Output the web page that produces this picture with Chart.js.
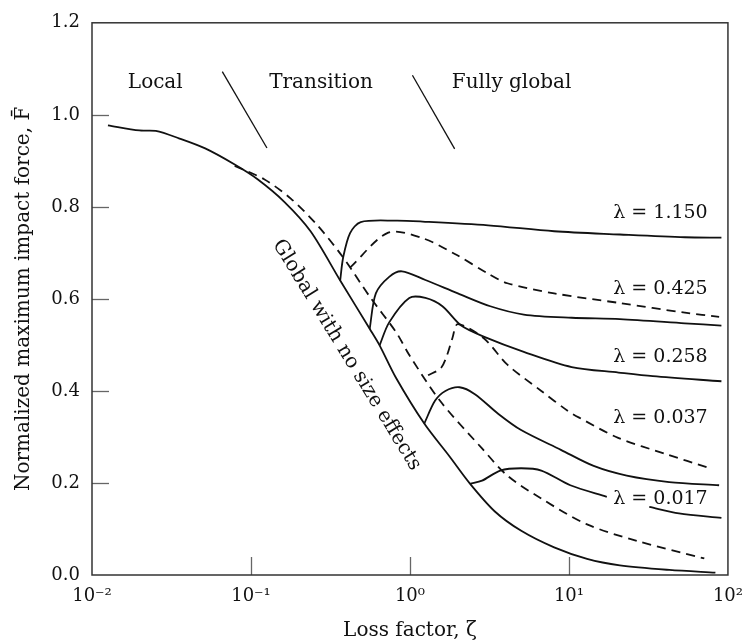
<!DOCTYPE html>
<html>
<head>
<meta charset="utf-8">
<script src="https://cdn.jsdelivr.net/npm/chart.js@4.4.1/dist/chart.umd.min.js"></script>
<style>
  html, body { margin: 0; padding: 0; background: #fff; }
  #wrap { width: 754px; height: 643px; }
</style>
</head>
<body>
<div id="wrap"><canvas id="chart" width="754" height="643"></canvas></div>
<script>
// [loss factor zeta, normalized max impact force]
const globalNoSize = [
  [0.0126, 0.977], [0.0199, 0.966], [0.0252, 0.965], [0.0352, 0.949], [0.0515, 0.927],
  [0.079, 0.892], [0.110, 0.860], [0.162, 0.811], [0.237, 0.747], [0.364, 0.640],
  [0.558, 0.535], [0.644, 0.499], [0.818, 0.428], [1.23, 0.329], [1.77, 0.258],
  [2.39, 0.198], [3.42, 0.138], [5.01, 0.096], [8.07, 0.060], [13.0, 0.035],
  [20.9, 0.021], [42.8, 0.011], [83.4, 0.005]
];
const lambda1150 = [
  [0.364, 0.640], [0.38, 0.69], [0.42, 0.743], [0.49, 0.767], [0.82, 0.770],
  [1.20, 0.768], [3.1, 0.760], [8.07, 0.747], [20.9, 0.740], [53.6, 0.734], [91, 0.733]
];
const dashedUpper = [
  [0.42, 0.668], [0.73, 0.744], [1.2, 0.732], [1.93, 0.697], [3.1, 0.655],
  [4.1, 0.634], [8.07, 0.612], [20.9, 0.591], [53.6, 0.570], [88, 0.561]
];
const dashedLong = [
  [0.079, 0.889], [0.121, 0.860], [0.178, 0.818], [0.26, 0.761], [0.38, 0.69],
  [0.558, 0.605], [0.82, 0.527], [0.99, 0.478], [1.55, 0.378], [2.84, 0.275],
  [4.1, 0.216], [6.7, 0.166], [13, 0.110], [26.8, 0.074], [71, 0.036]
];
const lambda0425 = [
  [0.558, 0.535], [0.61, 0.612], [0.74, 0.648], [0.89, 0.660], [1.25, 0.641],
  [2.0, 0.612], [3.2, 0.584], [5.2, 0.566], [10.4, 0.559], [20.9, 0.556],
  [53.6, 0.547], [91, 0.542]
];
const lambda0258 = [
  [0.644, 0.499], [0.74, 0.549], [0.99, 0.602], [1.25, 0.602], [1.6, 0.584],
  [2.1, 0.542], [2.96, 0.517], [5.2, 0.485], [10.4, 0.452], [20.5, 0.440],
  [33.7, 0.432], [91, 0.421]
];
const dashedHook = [
  [1.30, 0.434], [1.56, 0.449], [1.70, 0.475], [1.85, 0.515], [2.0, 0.545],
  [2.9, 0.515], [4.1, 0.457], [6.7, 0.400], [9.8, 0.357], [11.6, 0.342],
  [20.4, 0.298], [40.6, 0.263], [75.5, 0.233]
];
const lambda0037 = [
  [1.23, 0.329], [1.44, 0.379], [1.67, 0.400], [2.05, 0.408], [2.56, 0.393],
  [3.6, 0.350], [5.0, 0.315], [8.9, 0.272], [14.3, 0.237], [23.1, 0.216],
  [42.7, 0.202], [88, 0.195]
];
const lambda0017a = [
  [2.39, 0.198], [2.84, 0.205], [3.7, 0.227], [5.0, 0.232], [6.7, 0.227],
  [10.2, 0.195], [17.3, 0.170]
];
const lambda0017b = [[32, 0.148], [49.2, 0.134], [91, 0.124]];
const regionMark1 = [[0.066, 1.094], [0.126, 0.928]];
const regionMark2 = [[1.036, 1.086], [1.91, 0.926]];

const xTicks = [0.01, 0.1, 1, 10, 100];
const xTickLabels = ['10\u207B\u00B2', '10\u207B\u00B9', '10\u2070', '10\u00B9', '10\u00B2'];
const yInnerTicks = [0.2, 0.4, 0.6, 0.8, 1.0];
const xInnerTicks = [0.1, 1, 10];

const notes = [
  { text: 'Local', x: 0.025, y: 1.07, align: 'center', size: 20 },
  { text: 'Transition', x: 0.276, y: 1.07, align: 'center', size: 20 },
  { text: 'Fully global', x: 4.36, y: 1.07, align: 'center', size: 20 },
  { text: '\u03BB = 1.150', x: 19.0, y: 0.786, align: 'left', size: 19 },
  { text: '\u03BB = 0.425', x: 19.0, y: 0.622, align: 'left', size: 19 },
  { text: '\u03BB = 0.258', x: 19.0, y: 0.474, align: 'left', size: 19 },
  { text: '\u03BB = 0.037', x: 19.0, y: 0.340, align: 'left', size: 19 },
  { text: '\u03BB = 0.017', x: 19.0, y: 0.164, align: 'left', size: 19 },
  { text: 'Global with no size effects', x: 0.40, y: 0.478, align: 'center', size: 20, angle: 58.5 }
];

const pts = arr => arr.map(p => ({ x: p[0], y: p[1] }));
const ink = '#111';

function line(data, dashed, width) {
  return {
    data: pts(data),
    borderColor: ink,
    borderWidth: width || 1.8,
    borderDash: dashed ? [9, 6] : [],
    pointRadius: 0,
    fill: false,
    tension: width ? 0 : 0.3
  };
}

const framePlugin = {
  id: 'frame',
  afterDraw(chart) {
    const { ctx, chartArea: a, scales: { x, y } } = chart;
    ctx.save();
    ctx.strokeStyle = '#666';
    ctx.lineWidth = 1.3;
    yInnerTicks.forEach(v => {
      const py = Math.round(y.getPixelForValue(v)) + 0.5;
      ctx.beginPath(); ctx.moveTo(a.left, py); ctx.lineTo(a.left + 17, py); ctx.stroke();
    });
    xInnerTicks.forEach(v => {
      const px = Math.round(x.getPixelForValue(v)) + 0.5;
      ctx.beginPath(); ctx.moveTo(px, a.bottom); ctx.lineTo(px, a.bottom - 18); ctx.stroke();
    });
    ctx.strokeStyle = '#333';
    ctx.lineWidth = 1.5;
    ctx.strokeRect(a.left, a.top, a.right - a.left, a.bottom - a.top);

    ctx.fillStyle = ink;
    ctx.textBaseline = 'middle';
    notes.forEach(n => {
      ctx.font = n.size + 'px "DejaVu Serif"';
      ctx.textAlign = n.align;
      const px = x.getPixelForValue(n.x), py = y.getPixelForValue(n.y);
      if (n.angle) {
        ctx.save();
        ctx.translate(px, py);
        ctx.rotate(n.angle * Math.PI / 180);
        ctx.fillText(n.text, 0, 0);
        ctx.restore();
      } else {
        ctx.fillText(n.text, px, py);
      }
    });
    ctx.restore();
  }
};

Chart.defaults.font.family = '"DejaVu Serif"';
Chart.defaults.color = ink;

new Chart(document.getElementById('chart').getContext('2d'), {
  type: 'line',
  data: {
    datasets: [
      line(globalNoSize, false),
      line(lambda1150, false),
      line(dashedUpper, true),
      line(dashedLong, true),
      line(lambda0425, false),
      line(lambda0258, false),
      line(dashedHook, true),
      line(lambda0037, false),
      line(lambda0017a, false),
      line(lambda0017b, false),
      line(regionMark1, false, 1.3),
      line(regionMark2, false, 1.3)
    ]
  },
  options: {
    responsive: false,
    devicePixelRatio: 1,
    animation: false,
    layout: { padding: { top: 10, right: 18, left: 0, bottom: 0 } },
    plugins: { legend: { display: false }, tooltip: { enabled: false } },
    scales: {
      x: {
        type: 'logarithmic',
        min: 0.01,
        max: 100,
        afterBuildTicks: s => { s.ticks = xTicks.map(v => ({ value: v })); },
        afterFit: s => { s.height = 68; },
        grid: { display: false, drawTicks: false },
        border: { display: false },
        ticks: {
          autoSkip: false,
          maxRotation: 0,
          padding: 11,
          font: { size: 18 },
          callback: (v, i) => xTickLabels[i]
        },
        title: {
          display: true,
          text: 'Loss factor, \u03B6',
          font: { size: 20 },
          padding: { top: 0, bottom: 0 }
        }
      },
      y: {
        min: 0,
        max: 1.2,
        afterFit: s => { s.width = 92; },
        grid: { display: false, drawTicks: false },
        border: { display: false },
        ticks: {
          stepSize: 0.2,
          padding: 12,
          font: { size: 18 },
          callback: v => Number(v).toFixed(1)
        },
        title: {
          display: true,
          text: 'Normalized maximum impact force, F\u0304',
          font: { size: 20 },
          padding: { top: 12, bottom: 0 }
        }
      }
    }
  },
  plugins: [framePlugin]
});
</script>
</body>
</html>
